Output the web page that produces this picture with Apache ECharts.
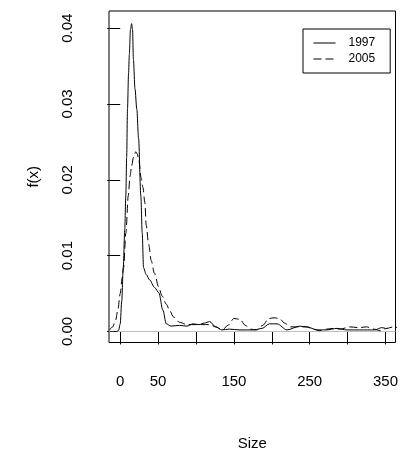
<!DOCTYPE html>
<html>
<head>
<meta charset="utf-8">
<script src="https://cdn.jsdelivr.net/npm/echarts@6/dist/echarts.min.js"></script>
<style>html,body{margin:0;padding:0;background:#fff;}#c{width:401px;height:456px;}</style>
</head>
<body>
<div id="c"></div>
<script>
// Data (kernel density estimates of firm size)
const size1997 = [-14, -4, -2, 0, 2, 4, 6, 7.4, 8.5, 9.6, 11, 12, 13.5, 15, 16.3, 17.4, 19.5, 21.9, 24.2, 27.2, 29, 30.8, 34.3, 38.7, 45.3, 51, 56.3, 60.8, 67, 78, 88, 96, 104, 111, 118, 126, 134, 144, 158, 177, 187, 197, 207, 220, 237, 246, 260, 272, 286, 299, 316, 336, 345, 350];
const dens1997 = [0, 0, 0.0002, 0.0010, 0.0040, 0.0084, 0.0135, 0.0179, 0.0230, 0.0293, 0.0340, 0.0365, 0.0398, 0.0406, 0.0398, 0.0359, 0.0320, 0.0293, 0.0255, 0.0179, 0.0130, 0.0084, 0.0075, 0.0068, 0.0058, 0.0051, 0.0028, 0.0010, 0.0007, 0.0008, 0.0007, 0.0010, 0.0009, 0.0011, 0.0013, 0.0006, 0.0002, 0.0003, 0.0002, 0.0002, 0.0004, 0.0010, 0.0010, 0.0002, 0.0007, 0.0006, 0.0002, 0.0002, 0.0004, 0.0002, 0.0002, 0.0002, 0.0005, 0.0004];
const size2005 = [-14, -10, -6, -3.2, 0, 2.6, 4.4, 7.5, 10.6, 13, 15, 17.6, 20.6, 22.5, 24.2, 27.7, 30, 32.5, 34.3, 37.5, 41, 45, 51, 55, 60.8, 65, 70.4, 78.3, 88, 98, 108, 118, 126, 135, 142, 150, 158, 165, 172, 180, 188, 196, 203, 210, 217, 224, 237, 246, 255, 263, 272, 281, 290, 303, 315, 325, 335, 343, 352, 360, 366];
const dens2005 = [0.0002, 0.0006, 0.0015, 0.0028, 0.0050, 0.0071, 0.0084, 0.0130, 0.0179, 0.0205, 0.0218, 0.0230, 0.0237, 0.0234, 0.0228, 0.0202, 0.0190, 0.0170, 0.0140, 0.0115, 0.0093, 0.0077, 0.0058, 0.0047, 0.0036, 0.0028, 0.0019, 0.0012, 0.0009, 0.0009, 0.0009, 0.0009, 0.0006, 0.0002, 0.0008, 0.0017, 0.0016, 0.0008, 0.0003, 0.0002, 0.0008, 0.0017, 0.0018, 0.0017, 0.0011, 0.0006, 0.0006, 0.0006, 0.0003, 0.0001, 0.0003, 0.0004, 0.0003, 0.0006, 0.0005, 0.0006, 0.0003, 0.0001, 0.0004, 0.0006, 0.0005];
const seriesNames = ['1997', '2005'];
const xTicks = [0, 50, 100, 150, 200, 250, 300, 350];
const xLabels = [0, 50, 150, 250, 350];
const yTicks = [0, 0.01, 0.02, 0.03, 0.04];
const xTitle = 'Size';
const yTitle = 'f(x)';

const zip = (xs, ys) => xs.map((x, i) => [x, ys[i]]);
const FONT = '"Liberation Sans", Arial, Helvetica, sans-serif';

const chart = echarts.init(document.getElementById('c'), null, {renderer: 'canvas'});
chart.setOption({
  animation: false,
  backgroundColor: '#fff',
  grid: {left: 109, top: 11, right: 5, bottom: 110, show: true, borderColor: '#000', borderWidth: 1, containLabel: false},
  legend: {
    orient: 'vertical', left: 303, top: 29, selectedMode: false,
    borderColor: '#000', borderWidth: 1, borderRadius: 0,
    padding: [8, 15, 8, 10], itemGap: 4, itemWidth: 22, itemHeight: 14,
    itemStyle: {opacity: 0, color: 'transparent', borderColor: 'transparent', borderWidth: 0},
    lineStyle: {width: 1},
    textStyle: {fontFamily: FONT, fontSize: 12, color: '#000', padding: [0, 0, 0, 8]},
    data: seriesNames
  },
  xAxis: {
    type: 'value', min: -14.8, max: 363.2,
    name: xTitle, nameLocation: 'middle', nameGap: 93.5,
    nameTextStyle: {fontFamily: FONT, fontSize: 15, color: '#000'},
    axisLine: {show: false},
    axisTick: {show: true, length: 13, customValues: xTicks, lineStyle: {color: '#000', width: 1}},
    axisLabel: {customValues: xLabels, margin: 31.5, fontFamily: FONT, fontSize: 15, color: '#000'},
    splitLine: {show: false}
  },
  yAxis: {
    type: 'value', min: -0.00146, max: 0.04226,
    name: yTitle, nameLocation: 'middle', nameGap: 68,
    nameTextStyle: {fontFamily: FONT, fontSize: 15, color: '#000'},
    axisLine: {show: false},
    axisTick: {show: true, length: 13, customValues: yTicks, lineStyle: {color: '#000', width: 1}},
    axisLabel: {customValues: yTicks, rotate: 90, margin: 33.5, fontFamily: FONT, fontSize: 15, color: '#000',
      formatter: v => v.toFixed(2)},
    splitLine: {show: false}
  },
  series: [
    {
      name: seriesNames[0], type: 'line', data: zip(size1997, dens1997),
      symbol: 'none', smooth: 0.3, smoothMonotone: 'x', clip: true,
      lineStyle: {color: '#000', width: 1, type: 'solid'}, itemStyle: {color: '#000'},
      markLine: {silent: true, symbol: 'none', label: {show: false},
        lineStyle: {color: '#bebebe', width: 1, type: 'solid'}, data: [{yAxis: 0}], z: 1},
      z: 3
    },
    {
      name: seriesNames[1], type: 'line', data: zip(size2005, dens2005),
      symbol: 'none', smooth: 0.3, smoothMonotone: 'x', clip: true,
      lineStyle: {color: '#000', width: 1, type: [8, 4]}, itemStyle: {color: '#000'},
      z: 3
    }
  ]
});
</script>
</body>
</html>
